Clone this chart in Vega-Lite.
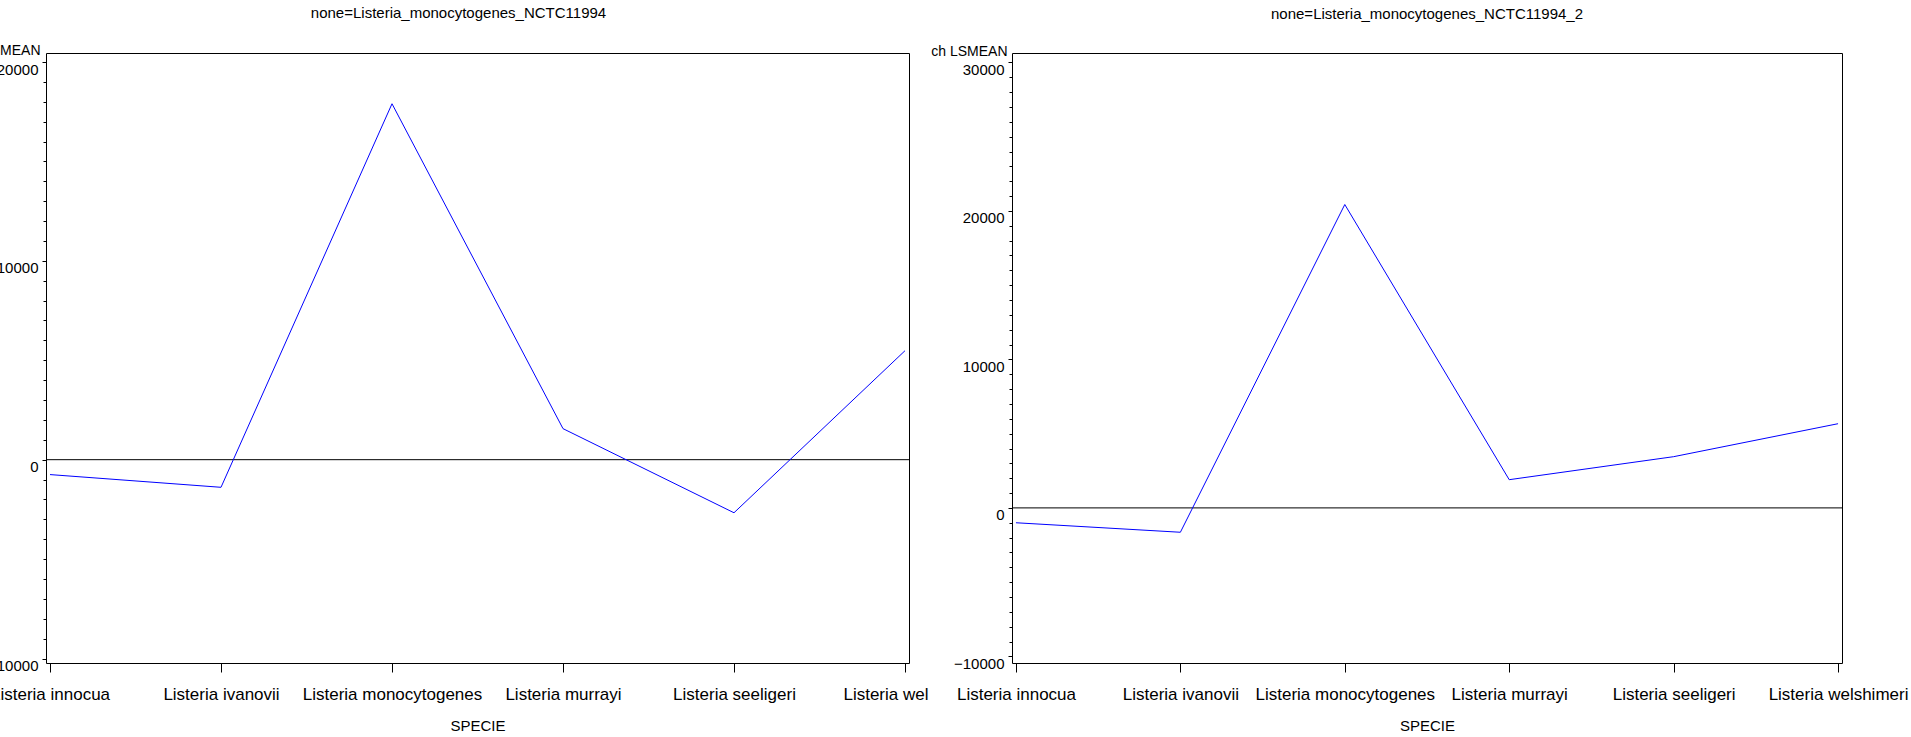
{
  "$schema": "https://vega.github.io/schema/vega-lite/v6.json",
  "autosize": {"type": "pad"},
  "padding": {"left": -19, "top": 5, "right": 2, "bottom": 0},
  "background": "white",
  "bounds": "flush",
  "spacing": 103,
  "config": {
    "font": "Liberation Sans",
    "view": {"stroke": "black", "strokeWidth": 1},
    "axis": {"grid": false, "labelColor": "black", "titleColor": "black", "tickColor": "black", "domainColor": "black", "titleFontWeight": "normal", "labelFont": "Liberation Sans", "titleFont": "Liberation Sans"},
    "title": {"font": "Liberation Sans", "fontWeight": "normal", "fontSize": 15, "color": "black"}
  },
  "datasets": {
    "panel1": [
      {"species": "Listeria innocua", "lsmean": -750},
      {"species": "Listeria ivanovii", "lsmean": -1390},
      {"species": "Listeria monocytogenes", "lsmean": 17900},
      {"species": "Listeria murrayi", "lsmean": 1560},
      {"species": "Listeria seeligeri", "lsmean": -2670},
      {"species": "Listeria welshimeri", "lsmean": 5480}
    ],
    "panel2": [
      {"species": "Listeria innocua", "lsmean": -1000},
      {"species": "Listeria ivanovii", "lsmean": -1640},
      {"species": "Listeria monocytogenes", "lsmean": 20430},
      {"species": "Listeria murrayi", "lsmean": 1900},
      {"species": "Listeria seeligeri", "lsmean": 3450},
      {"species": "Listeria welshimeri", "lsmean": 5670}
    ],
    "zero": [{"ref": 0}]
  },
  "hconcat": [
    {
      "width": 863,
      "height": 610,
      "title": {"text": "none=Listeria_monocytogenes_NCTC11994", "offset": 22, "dx": -19},
      "layer": [
        {
          "data": {"name": "zero"},
          "mark": {"type": "rule", "color": "black", "strokeWidth": 1},
          "encoding": {
            "y": {"field": "ref", "type": "quantitative", "scale": {"domain": [-10226, 20453], "nice": false, "zero": false},
              "axis": {"orient": "left", "title": null, "labels": false, "domain": false, "tickSize": 3,
                "values": [-9000, -8000, -7000, -6000, -5000, -4000, -3000, -2000, -1000, 1000, 2000, 3000, 4000, 5000, 6000, 7000, 8000, 9000, 11000, 12000, 13000, 14000, 15000, 16000, 17000, 18000, 19000]}}
          }
        },
        {
          "data": {"name": "panel1"},
          "mark": {"type": "line", "color": "#0000ff", "strokeWidth": 1},
          "encoding": {
            "x": {"field": "species", "type": "nominal", "sort": null, "scale": {"type": "point", "padding": 0.0234},
              "axis": {"title": "SPECIE", "titleFontSize": 15, "titlePadding": 16, "labelAngle": 0, "labelFontSize": 17, "labelPadding": 14, "tickSize": 9, "domain": false,
                "labelExpr": "datum.value == 'Listeria welshimeri' ? 'Listeria wel' : datum.label",
                "labelAlign": {"condition": {"test": "datum.value == 'Listeria welshimeri'", "value": "right"}, "value": "center"},
                "labelOffset": {"condition": {"test": "datum.value == 'Listeria welshimeri'", "value": 23}, "value": 0}}},
            "y": {"field": "lsmean", "type": "quantitative", "scale": {"domain": [-10226, 20453], "nice": false, "zero": false},
              "axis": {"orient": "left", "title": "LSMEAN", "values": [-10000, 0, 10000, 20000], "format": "d", "labelFontSize": 15, "labelBaseline": "top", "labelPadding": 4, "tickSize": 4, "domain": false,
                "titleAngle": 0, "titleAlign": "right", "titleBaseline": "alphabetic", "titleX": -6, "titleY": 1, "titleFontSize": 14}}
          }
        }
      ],
      "resolve": {"axis": {"y": "independent"}}
    },
    {
      "width": 830,
      "height": 610,
      "title": {"text": "none=Listeria_monocytogenes_NCTC11994_2", "offset": 22},
      "layer": [
        {
          "data": {"name": "zero"},
          "mark": {"type": "rule", "color": "black", "strokeWidth": 1},
          "encoding": {
            "y": {"field": "ref", "type": "quantitative", "scale": {"domain": [-10444, 30633], "nice": false, "zero": false},
              "axis": {"orient": "left", "title": null, "labels": false, "domain": false, "tickSize": 3,
                "values": [-9000, -8000, -7000, -6000, -5000, -4000, -3000, -2000, -1000, 1000, 2000, 3000, 4000, 5000, 6000, 7000, 8000, 9000, 11000, 12000, 13000, 14000, 15000, 16000, 17000, 18000, 19000, 21000, 22000, 23000, 24000, 25000, 26000, 27000, 28000, 29000]}}
          }
        },
        {
          "data": {"name": "panel2"},
          "mark": {"type": "line", "color": "#0000ff", "strokeWidth": 1},
          "encoding": {
            "x": {"field": "species", "type": "nominal", "sort": null, "scale": {"type": "point", "padding": 0.0241},
              "axis": {"title": "SPECIE", "titleFontSize": 15, "titlePadding": 16, "labelAngle": 0, "labelFontSize": 17, "labelPadding": 14, "tickSize": 9, "domain": false}},
            "y": {"field": "lsmean", "type": "quantitative", "scale": {"domain": [-10444, 30633], "nice": false, "zero": false},
              "axis": {"orient": "left", "title": "ch LSMEAN", "values": [-10000, 0, 10000, 20000, 30000], "format": "d", "labelFontSize": 15, "labelBaseline": "top", "labelPadding": 4, "tickSize": 4, "domain": false,
                "titleAngle": 0, "titleAlign": "right", "titleBaseline": "alphabetic", "titleX": -5, "titleY": 2, "titleFontSize": 14}}
          }
        }
      ],
      "resolve": {"axis": {"y": "independent"}}
    }
  ]
}
